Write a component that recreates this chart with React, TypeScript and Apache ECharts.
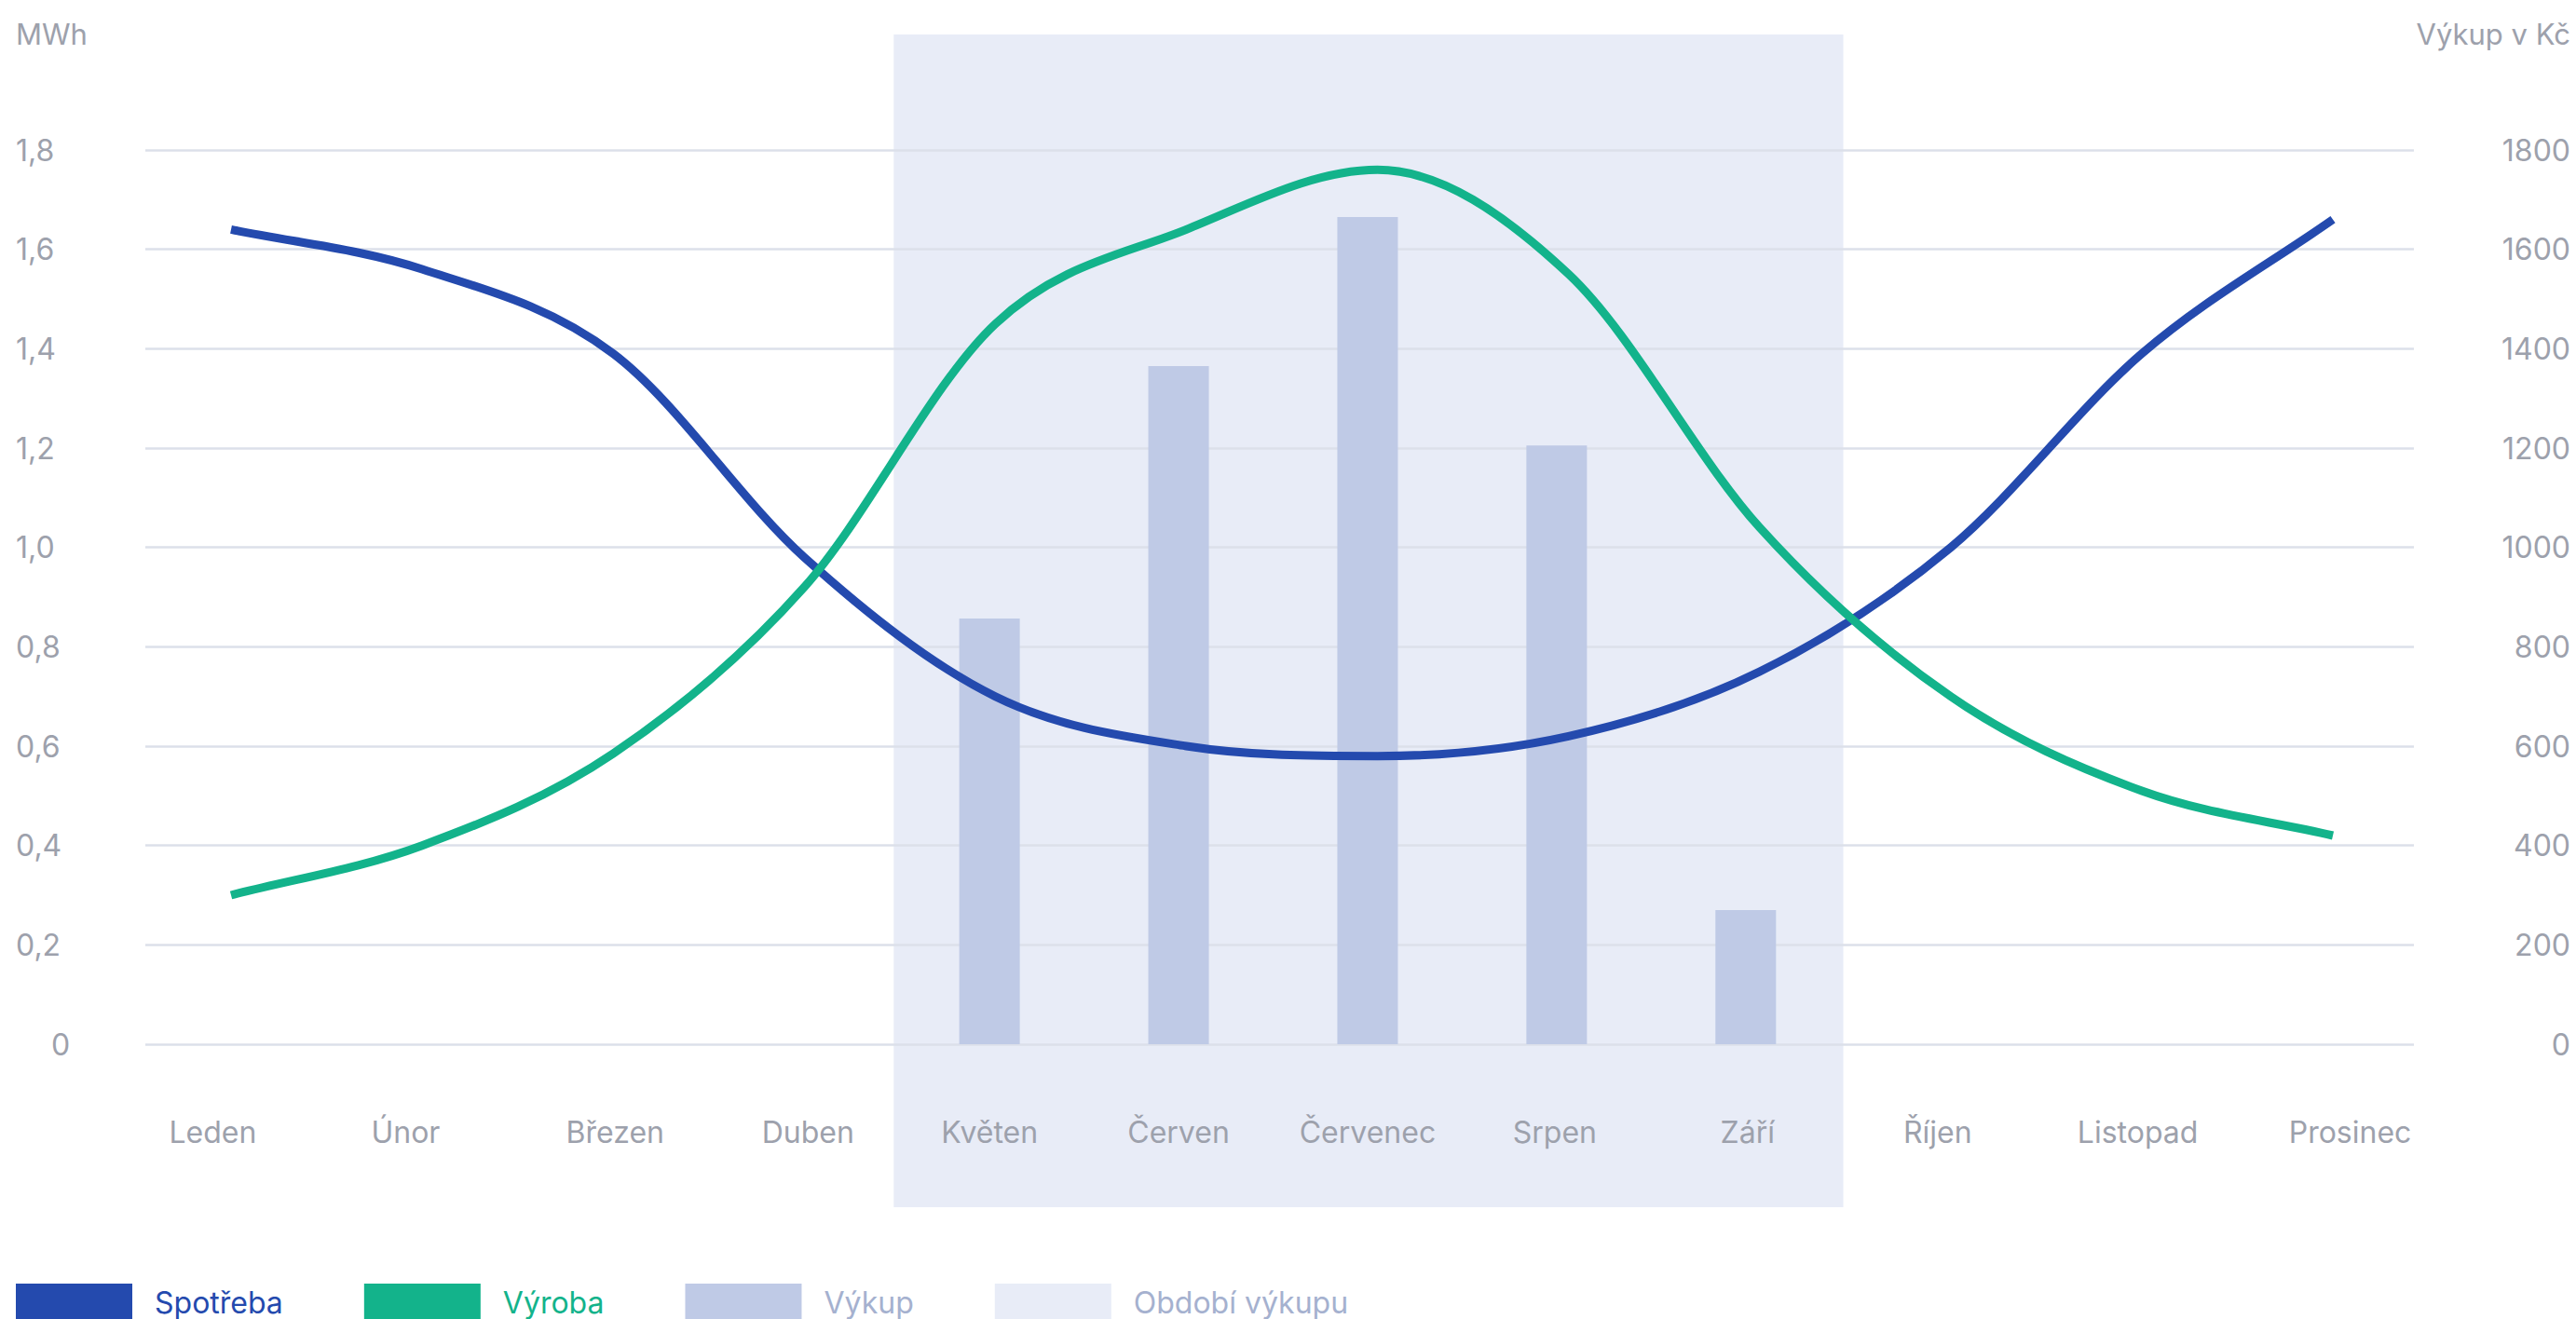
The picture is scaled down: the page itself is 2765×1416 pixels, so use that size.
import React, { useEffect, useRef } from "react";
import * as echarts from "echarts";

const months = ["Leden", "Únor", "Březen", "Duben", "Květen", "Červen", "Červenec", "Srpen", "Září", "Říjen", "Listopad", "Prosinec"];
const spotreba = [1.64, 1.56, 1.39, 0.98, 0.70, 0.60, 0.58, 0.62, 0.75, 1.00, 1.39, 1.66];
const vyroba = [0.30, 0.40, 0.585, 0.92, 1.45, 1.64, 1.76, 1.55, 1.04, 0.70, 0.51, 0.42];
const vykup = ["-", "-", "-", "-", 857, 1365, 1665, 1205, 270, "-", "-", "-"];
const obdobiStart = "Květen";
const obdobiEnd = "Září";
const mwhTicks = { min: 0, max: 1.8, interval: 0.2 };
const kcTicks = { min: 0, max: 1800, interval: 200 };

// label nudges (px) to mimic the reference's label placement
const labelShift = [-22, -18, 4, 8, 0, 0, 0, -2, 2, 3, 15, 40];

const BLUE = "#244AAE";
const GREEN = "#13B38B";
const BAR = "#BFCAE6";
const SHADE = "#E8ECF7";
const TEXT = "#9DA1AC";
const LEG_LIGHT = "#A5B1CF";
const GRIDLINE = "#DCE0EA";
const FONT = "Inter";

// monotone cubic curve (Fritsch–Carlson) through the series' points, mapped by the axes
function smoothLine(values: number[], color: string) {
  return (params: any, api: any) => {
    if (params.dataIndex !== 0) return null;
    const pts = values.map((v, i) => api.coord([i, v]));
    const n = pts.length;
    const dx = pts.map((p: number[], i: number) => (i < n - 1 ? pts[i + 1][0] - p[0] : 0));
    const sec = pts.map((p: number[], i: number) => (i < n - 1 ? (pts[i + 1][1] - p[1]) / dx[i] : 0));
    const m: number[] = [];
    for (let i = 0; i < n; i++) {
      if (i === 0) m.push(sec[0]);
      else if (i === n - 1) m.push(sec[n - 2]);
      else if (sec[i - 1] * sec[i] <= 0) m.push(0);
      else m.push((sec[i - 1] + sec[i]) / 2);
    }
    for (let i = 0; i < n - 1; i++) {
      if (sec[i] === 0) { m[i] = 0; m[i + 1] = 0; continue; }
      const a = m[i] / sec[i], b = m[i + 1] / sec[i];
      const s = a * a + b * b;
      if (s > 9) {
        const t = 3 / Math.sqrt(s);
        m[i] = t * a * sec[i];
        m[i + 1] = t * b * sec[i];
      }
    }
    let d = `M${pts[0][0]},${pts[0][1]}`;
    for (let i = 0; i < n - 1; i++) {
      const p0 = pts[i], p1 = pts[i + 1], h = dx[i] / 3;
      d += ` C${p0[0] + h},${p0[1] + m[i] * h} ${p1[0] - h},${p1[1] - m[i + 1] * h} ${p1[0]},${p1[1]}`;
    }
    return {
      type: "path",
      shape: { pathData: d },
      style: { stroke: color, lineWidth: 9, fill: "none" },
    };
  };
}

export default function App() {
  const ref = useRef<HTMLDivElement>(null);
  useEffect(() => {
    if (!ref.current) return;
    const chart = echarts.init(ref.current, null, { renderer: "svg" });

    const rich: any = {};
    labelShift.forEach((s, i) => {
      rich["m" + i] = {
        fontSize: 32,
        fontFamily: FONT,
        color: TEXT,
        padding: s >= 0 ? [0, 0, 0, 2 * s] : [0, -2 * s, 0, 0],
      };
    });

    const option: any = {
      animation: false,
      textStyle: { fontFamily: FONT },
      title: [
        { text: "MWh", left: 17, top: 21, padding: 0, textStyle: { fontSize: 31, fontWeight: "normal", color: TEXT, fontFamily: FONT } },
        { text: "Výkup v Kč", right: 6, top: 21, padding: 0, textStyle: { fontSize: 31, fontWeight: "normal", color: TEXT, fontFamily: FONT } },
      ],
      legend: {
        left: 17,
        top: 1378,
        padding: 0,
        itemWidth: 125,
        itemHeight: 40,
        itemGap: 87,
        icon: "rect",
        selectedMode: false,
        textStyle: { fontSize: 32, fontFamily: FONT, padding: [0, 0, 0, 19] },
        data: [
          { name: "Spotřeba", textStyle: { color: BLUE } },
          { name: "Výroba", textStyle: { color: GREEN } },
          { name: "Výkup", textStyle: { color: LEG_LIGHT } },
          { name: "Období výkupu", textStyle: { color: LEG_LIGHT } },
        ],
      },
      grid: [
        { left: 156, width: 2435, top: 161, height: 960 },
        { left: 149, width: 2435, top: 161, height: 960 },
        { left: 144, width: 2446, top: 37, height: 1259 },
      ],
      xAxis: [
        {
          type: "value", gridIndex: 0, min: -0.4486, max: 11.424, show: false,
        },
        {
          type: "category", gridIndex: 1, data: months, z: 2,
          axisLine: { show: false }, axisTick: { show: false }, splitLine: { show: false },
          axisLabel: {
            interval: 0, margin: 78, lineHeight: 32,
            formatter: (v: string) => `{m${months.indexOf(v)}|${v}}`,
            rich,
          },
        },
        { type: "category", gridIndex: 2, data: months, show: false },
      ],
      yAxis: [
        {
          type: "value", gridIndex: 0, position: "left", ...mwhTicks, z: 2,
          axisLine: { show: false }, axisTick: { show: false },
          splitLine: { show: true, lineStyle: { color: GRIDLINE, width: 2.5 } },
          axisLabel: {
            align: "left", margin: 139, fontSize: 32, color: TEXT, fontFamily: FONT,
            formatter: (v: number) => (v === 0 ? "{z|0}" : v.toFixed(1).replace(".", ",")),
            rich: { z: { padding: [0, 0, 0, 38], fontSize: 32, color: TEXT, fontFamily: FONT } },
          },
        },
        {
          type: "value", gridIndex: 0, position: "right", ...kcTicks, z: 2,
          axisLine: { show: false }, axisTick: { show: false }, splitLine: { show: false },
          axisLabel: {
            align: "right", margin: 168, fontSize: 32, color: TEXT, fontFamily: FONT,
            formatter: (v: number) => String(Math.round(v)),
          },
        },
        { type: "value", gridIndex: 1, ...kcTicks, show: false, splitLine: { show: false } },
        { type: "value", gridIndex: 2, min: 0, max: 1, show: false, splitLine: { show: false } },
      ],
      series: [
        {
          name: "Období výkupu", type: "bar", xAxisIndex: 2, yAxisIndex: 3, data: [],
          itemStyle: { color: SHADE }, z: 0,
          markArea: {
            silent: true, z: 1,
            itemStyle: { color: SHADE },
            data: [[{ xAxis: obdobiStart }, { xAxis: obdobiEnd }]],
          },
        },
        {
          name: "Výkup", type: "bar", xAxisIndex: 1, yAxisIndex: 2, data: vykup,
          barWidth: 65, itemStyle: { color: BAR }, z: 3,
        },
        {
          name: "Spotřeba", type: "custom", coordinateSystem: "cartesian2d", xAxisIndex: 0, yAxisIndex: 0,
          data: spotreba.map((v, i) => [i, v]), renderItem: smoothLine(spotreba, BLUE), z: 4,
          itemStyle: { color: BLUE }, encode: { x: 0, y: 1 }, clip: false,
        },
        {
          name: "Výroba", type: "custom", coordinateSystem: "cartesian2d", xAxisIndex: 0, yAxisIndex: 0,
          data: vyroba.map((v, i) => [i, v]), renderItem: smoothLine(vyroba, GREEN), z: 4,
          itemStyle: { color: GREEN }, encode: { x: 0, y: 1 }, clip: false,
        },
      ],
    };
    chart.setOption(option);
    return () => chart.dispose();
  }, []);
  return <div ref={ref} style={{ position: "fixed", left: 0, top: 0, width: 2765, height: 1416, background: "#fff" }} />;
}
